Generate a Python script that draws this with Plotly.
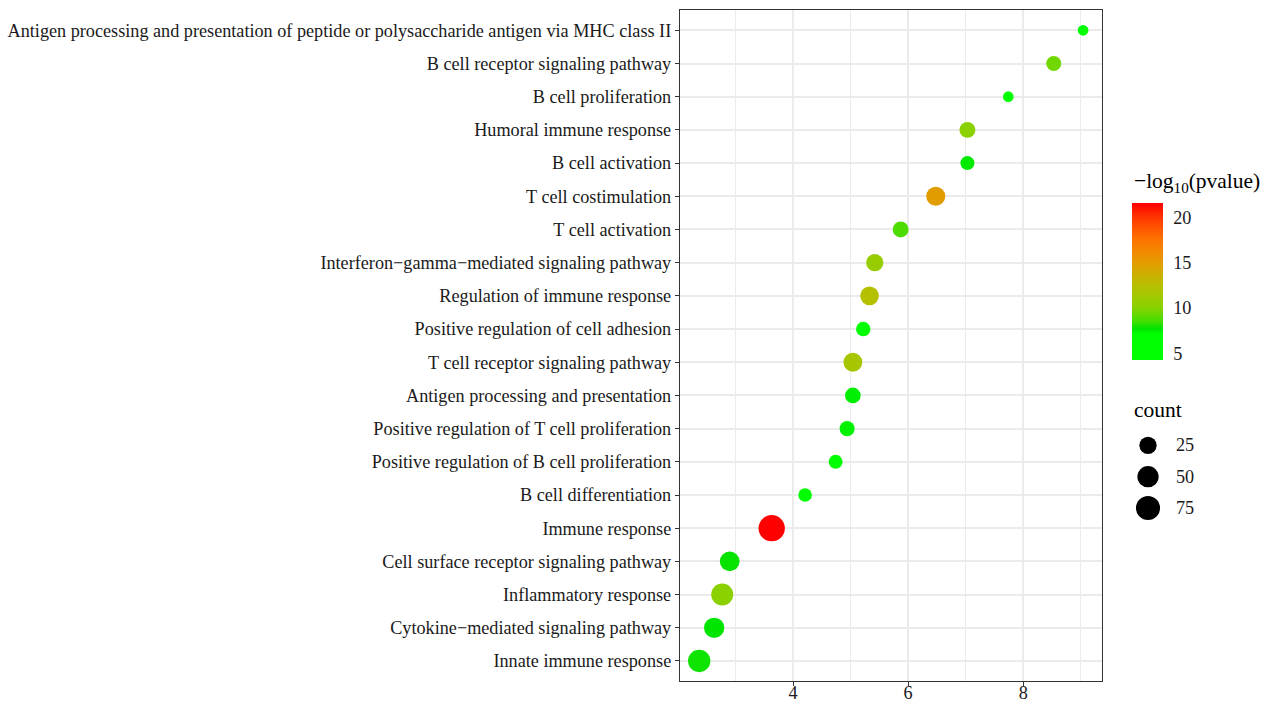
import numpy as np
import plotly.graph_objects as go

# GO terms, listed from top row to bottom row
terms = [
    "Antigen processing and presentation of peptide or polysaccharide antigen via MHC class II",
    "B cell receptor signaling pathway",
    "B cell proliferation",
    "Humoral immune response",
    "B cell activation",
    "T cell costimulation",
    "T cell activation",
    "Interferon\u2212gamma\u2212mediated signaling pathway",
    "Regulation of immune response",
    "Positive regulation of cell adhesion",
    "T cell receptor signaling pathway",
    "Antigen processing and presentation",
    "Positive regulation of T cell proliferation",
    "Positive regulation of B cell proliferation",
    "B cell differentiation",
    "Immune response",
    "Cell surface receptor signaling pathway",
    "Inflammatory response",
    "Cytokine\u2212mediated signaling pathway",
    "Innate immune response",
]

# enrichment value on the x axis
enrichment = [9.04, 8.53, 7.74, 7.03, 7.03, 6.48, 5.87, 5.42, 5.33, 5.22,
              5.04, 5.04, 4.94, 4.74, 4.21, 3.63, 2.90, 2.77, 2.63, 2.37]

# -log10(pvalue), mapped to colour
neglog_p = [5.0, 9.5, 4.26, 10.2, 7.6, 14.9, 8.8, 10.8, 12.4, 5.8,
            11.6, 7.5, 7.4, 7.1, 5.5, 21.58, 7.8, 10.2, 7.7, 7.9]

# gene count, mapped to point size
counts = [9, 16, 9, 19, 13, 35, 19, 25, 33, 14,
          33, 18, 16, 13, 12, 99, 39, 56, 43, 59]

# size legend breaks
count_breaks = [25, 50, 75]

# x axis ticks
x_ticks = [4, 6, 8]
# colourbar ticks
cb_ticks = [5, 10, 15, 20]

W, H = 1271, 704
FONT = "Liberation Serif"
TXT = 18.2
TITLE = 21.5

# green -> red gradient
cs = [
    [0.000, "#00FF00"],
    [0.165, "#00FF00"],
    [0.200, "#00E400"],
    [0.240, "#3ADF00"],
    [0.300, "#6FD700"],
    [0.340, "#8AD100"],
    [0.420, "#A6C700"],
    [0.480, "#B8BF00"],
    [0.560, "#D2AB00"],
    [0.620, "#E39C00"],
    [0.700, "#F58600"],
    [0.780, "#FF6F00"],
    [0.900, "#FF3A00"],
    [1.000, "#FF0000"],
]

cmin_c, cmax_c = min(counts), max(counts)
D_MIN, D_MAX = 10.7, 26.3


def diam(c):
    c = np.asarray(c, dtype=float)
    return D_MIN + (D_MAX - D_MIN) * np.sqrt((c - cmin_c) / (cmax_c - cmin_c))


# panel box in pixels
PL, PR, PT, PB = 680, 1102.3, 10.4, 680.9
xmin, xmax = min(enrichment), max(enrichment)
xpad = 0.05 * (xmax - xmin)
n = len(terms)

# colourbar geometry (pixels)
CB_L, CB_TOP, CB_LEN, CB_TH = 1132, 203, 157, 31

fig = go.Figure()
fig.add_trace(go.Scatter(
    x=enrichment, y=terms, mode="markers",
    marker=dict(
        size=diam(counts), color=neglog_p, colorscale=cs,
        line=dict(width=0), opacity=1,
        colorbar=dict(
            x=CB_L / W, xanchor="left", xpad=0,
            y=1 - (CB_TOP + CB_LEN / 2) / H, yanchor="middle", ypad=0,
            len=CB_LEN, lenmode="pixels", thickness=CB_TH, thicknessmode="pixels",
            outlinewidth=0, tickvals=cb_ticks, ticks="outside",
            ticklen=7, tickcolor="rgba(255,255,255,0)", tickwidth=1,
            tickfont=dict(family=FONT, size=TXT, color="#1a1a1a"),
            title=dict(text=""),
        ),
    ),
    showlegend=False, hoverinfo="x+y", xaxis="x", yaxis="y",
))

# size legend
fig.add_trace(go.Scatter(
    x=[0] * len(count_breaks), y=[1, 2, 3], mode="markers",
    marker=dict(size=diam(count_breaks), color="black", opacity=1, line=dict(width=0)),
    showlegend=False, hoverinfo="skip", xaxis="x2", yaxis="y2",
))

axis_font = dict(family=FONT, size=TXT, color="#1a1a1a")

fig.update_layout(
    width=W, height=H, margin=dict(l=0, r=0, t=0, b=0, autoexpand=False),
    paper_bgcolor="white", plot_bgcolor="white",
    font=dict(family=FONT, color="black"),
    xaxis=dict(
        domain=[PL / W, PR / W], range=[xmin - xpad, xmax + xpad], automargin=False,
        tickvals=x_ticks, ticks="outside", ticklen=4, tickwidth=1.2, tickcolor="#333333",
        ticklabelstandoff=-9,
        showgrid=True, gridcolor="#EBEBEB", gridwidth=1.5,
        minor=dict(dtick=1, tick0=0, showgrid=True, gridcolor="#EBEBEB", gridwidth=0.8),
        showline=True, mirror=True, linecolor="#333333", linewidth=1.3,
        zeroline=False, tickfont=axis_font,
    ),
    yaxis=dict(
        domain=[1 - PB / H, 1 - PT / H], automargin=False,
        type="category", categoryorder="array", categoryarray=terms,
        range=[n - 1 + 0.6, -0.6],
        ticks="outside", ticklen=4, tickwidth=1.2, tickcolor="#333333",
        showgrid=True, gridcolor="#EBEBEB", gridwidth=1.5,
        showline=True, mirror=True, linecolor="#333333", linewidth=1.3,
        zeroline=False, tickfont=axis_font,
    ),
    xaxis2=dict(domain=[1128 / W, 1208 / W], range=[-1, 3], visible=False,
                anchor="y2", fixedrange=True, automargin=False),
    yaxis2=dict(domain=[(H - 523.7) / H, (H - 429.6) / H], range=[3.5, 0.5],
                visible=False, anchor="x2", fixedrange=True, automargin=False),
)

ann = [
    dict(text="\u2212log<sub>10</sub>(pvalue)", x=CB_L / W, y=1 - 182 / H,
         xref="paper", yref="paper", xanchor="left", yanchor="middle",
         showarrow=False, font=dict(family=FONT, size=TITLE, color="black")),
    dict(text="count", x=CB_L / W, y=1 - 410 / H,
         xref="paper", yref="paper", xanchor="left", yanchor="middle",
         showarrow=False, font=dict(family=FONT, size=TITLE, color="black")),
]
for i, c in enumerate(count_breaks):
    ann.append(dict(text=str(c), x=1.3, y=i + 1, xref="x2", yref="y2",
                    xanchor="left", yanchor="middle", showarrow=False,
                    font=dict(family=FONT, size=TXT, color="#1a1a1a")))
fig.update_layout(annotations=ann)

# white tick marks on both edges of the colourbar
vmin, vmax = min(neglog_p), max(neglog_p)
shapes = []
for v in cb_ticks:
    ypx = CB_TOP + CB_LEN * (vmax - v) / (vmax - vmin)
    for x0, x1 in [(CB_L, CB_L + 6), (CB_L + CB_TH - 6, CB_L + CB_TH)]:
        shapes.append(dict(type="line", xref="paper", yref="paper",
                           x0=x0 / W, x1=x1 / W, y0=1 - ypx / H, y1=1 - ypx / H,
                           line=dict(color="white", width=1.2)))
fig.update_layout(shapes=shapes)

fig.write_html("out.html")
